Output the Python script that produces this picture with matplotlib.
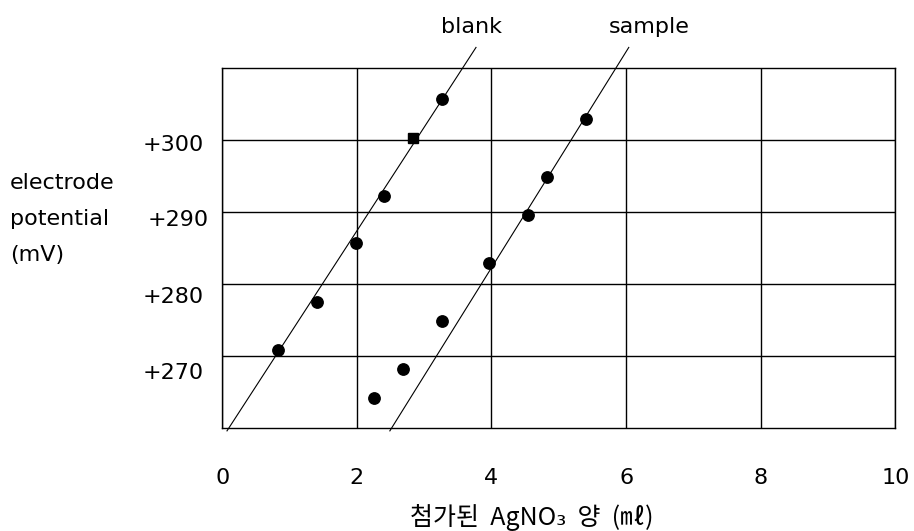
import matplotlib
matplotlib.use("Agg")
import matplotlib.pyplot as plt
import matplotlib.transforms as mtransforms

# titration readings (mL of AgNO3 added, electrode potential in mV)
blank_x = [0.83, 1.40, 1.98, 2.40, 3.26]
blank_y = [270.9, 277.5, 285.7, 292.3, 305.7]
blank_square_x = [2.84]
blank_square_y = [300.35]

sample_x = [2.26, 2.69, 3.26, 3.97, 4.55, 4.82, 5.40]
sample_y = [264.2, 268.2, 274.9, 283.0, 289.6, 294.9, 303.0]

# hand-drawn fit lines (end points)
blank_line_x = [0.07, 3.77]
blank_line_y = [259.6, 312.9]
sample_line_x = [2.49, 6.04]
sample_line_y = [259.6, 312.9]

x_ticks = [0, 2, 4, 6, 8, 10]
y_ticks = [270, 280, 290, 300]
y_tick_labels = ["+270", "+280", "+290", "+300"]

FS = 16
plt.rcParams["font.family"] = ["DejaVu Sans"]

fig = plt.figure(figsize=(9.14, 5.31), dpi=100)
ax = fig.add_axes([0.2432, 0.194, 0.7363, 0.6774])

ax.set_xlim(0, 10)
ax.set_ylim(260, 310)

# fit lines run past the frame, so no clipping
ax.plot(blank_line_x, blank_line_y, color="black", lw=0.8, clip_on=False, zorder=3)
ax.plot(sample_line_x, sample_line_y, color="black", lw=0.8, clip_on=False, zorder=3)

ax.plot(blank_x, blank_y, "o", color="black", ms=8.2, zorder=4)
ax.plot(blank_square_x, blank_square_y, "s", color="black", ms=7.6, zorder=4)
ax.plot(sample_x, sample_y, "o", color="black", ms=8.2, zorder=4)

ax.text(3.70, 314.87, "blank", ha="center", va="baseline", fontsize=FS)
ax.text(6.35, 314.87, "sample", ha="center", va="baseline", fontsize=FS)

# grid + frame
ax.set_xticks(x_ticks)
ax.set_yticks(y_ticks)
ax.set_yticklabels(y_tick_labels)
ax.grid(True, color="black", lw=1.0)
for sp in ax.spines.values():
    sp.set_color("black")
    sp.set_linewidth(1.0)
ax.tick_params(axis="both", length=0, labelsize=FS)
ax.tick_params(axis="x", pad=29)
ax.tick_params(axis="y", pad=13)

# y tick labels sit slightly off their grid lines
label_shift_px = [(0, -15), (0, -10.7), (5, -5.7), (0, -2.7)]
for lbl, (dx, dy) in zip(ax.get_yticklabels(), label_shift_px):
    off = mtransforms.ScaledTranslation(dx / 100, dy / 100, fig.dpi_scale_trans)
    lbl.set_transform(lbl.get_transform() + off)

ax.set_xlabel("첨가된  AgNO₃  양  (㎖)", fontsize=18,
              family=["Noto Sans CJK KR", "DejaVu Sans"])
ax.xaxis.set_label_coords(0.46, -0.212)

ax.set_ylabel("electrode\npotential\n(mV)", rotation=0, fontsize=FS,
              ha="left", va="center", multialignment="left", linespacing=2.0)
ax.yaxis.set_label_coords(-0.3155, 0.581)

fig.savefig("out.png", dpi=100)
